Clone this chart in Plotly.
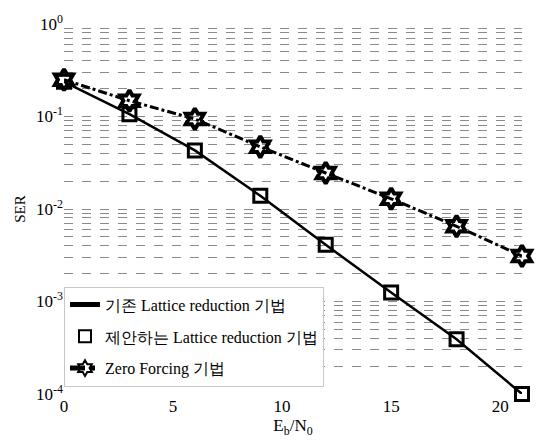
import plotly.graph_objects as go

# Data
ebn0 = [0, 3, 6, 9, 12, 15, 18, 21]
ser_lattice = [0.237, 0.106, 0.043, 0.0139, 0.0041, 0.00125, 0.00039, 0.0001]
ser_zf = [0.25, 0.148, 0.094, 0.047, 0.0245, 0.0129, 0.0065, 0.0031]

names = ["기존 Lattice reduction 기법", "제안하는 Lattice reduction 기법", "Zero Forcing 기법"]
x_ticks = [0, 5, 10, 15, 20]
y_tickvals = [1e-4, 1e-3, 1e-2, 1e-1, 1]
y_ticktext = ["10<sup>-4</sup>", "10<sup>-3</sup>", "10<sup>-2</sup>", "10<sup>-1</sup>", "10<sup>0</sup>"]

FONT = "Times New Roman"

fig = go.Figure()
fig.add_trace(go.Scatter(
    x=ebn0, y=ser_lattice, mode="lines", name=names[0], legendgroup="a",
    line=dict(color="black", width=2.5), cliponaxis=False))
fig.add_trace(go.Scatter(
    x=ebn0, y=ser_lattice, mode="markers", name=names[1], legendgroup="b",
    marker=dict(symbol="square-open", size=13, color="black", line=dict(width=3, color="black")),
    cliponaxis=False))
fig.add_trace(go.Scatter(
    x=ebn0, y=ser_zf, mode="lines+markers", name=names[2], legendgroup="c",
    line=dict(color="black", width=3, dash="dashdot"),
    marker=dict(symbol="hexagram-open", size=16, color="black", line=dict(width=4, color="black")),
    cliponaxis=False))

fig.update_layout(
    width=541, height=440,
    margin=dict(l=64, r=19, t=21, b=42),
    paper_bgcolor="white", plot_bgcolor="white",
    font=dict(family=FONT, size=16, color="black"),
    showlegend=True,
    legend=dict(
        x=0, y=0.02, xanchor="left", yanchor="bottom",
        bgcolor="white", bordercolor="#c8c8c8", borderwidth=1,
        font=dict(family=FONT, size=16, color="black"),
        traceorder="grouped", tracegroupgap=8, itemsizing="constant",
    ),
    xaxis=dict(
        range=[0, 21], tickvals=x_ticks, showgrid=False, zeroline=False,
        showline=False, ticks="", tickfont=dict(family=FONT, size=17),
        title=dict(text="E<sub>b</sub>/N<sub>0</sub>", standoff=0, font=dict(family=FONT, size=17)),
    ),
    yaxis=dict(
        type="log", range=[-4, 0], tickvals=y_tickvals, ticktext=y_ticktext,
        showgrid=True, gridcolor="#8a8a8a", griddash="dash", gridwidth=1,
        zeroline=False, showline=False, ticks="", tickfont=dict(family=FONT, size=17),
        minor=dict(dtick="D1", showgrid=True, gridcolor="#8a8a8a", griddash="dash", gridwidth=1),
        title=dict(text="SER", standoff=6, font=dict(family=FONT, size=15)),
    ),
)

fig.write_html("out.html")
